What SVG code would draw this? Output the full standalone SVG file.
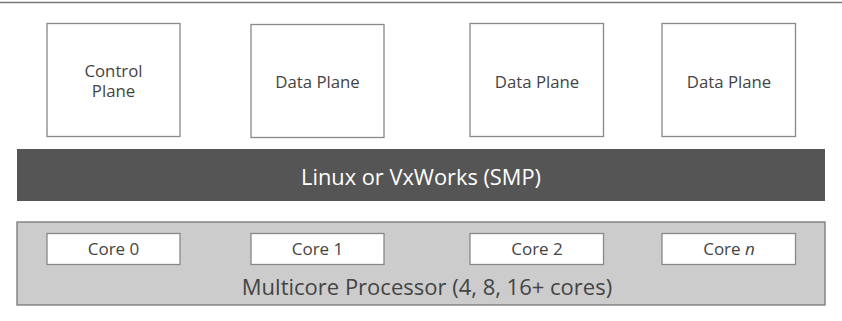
<svg xmlns="http://www.w3.org/2000/svg" width="842" height="321" viewBox="0 0 842 321">
<style>
.t{font-family:"Open Sans","Liberation Sans",sans-serif;fill:#444;text-anchor:middle}
.box{fill:#fff;stroke:#888;stroke-width:1.3}
.pl{font-size:16.8px}
.core{font-size:17px}
</style>
<rect width="842" height="321" fill="#fff"/>
<line x1="0" y1="2.5" x2="842" y2="2.5" stroke="#777" stroke-width="1.3"/>
<g id="control-plane"><rect class="box" x="47" y="23.5" width="133" height="113"/><text class="t pl" x="113.5" y="77">Control<tspan x="113.5" dy="19.8">Plane</tspan></text></g>
<g id="data-plane-1"><rect class="box" x="251" y="24.5" width="133" height="113"/><text class="t pl" x="317.5" y="88">Data Plane</text></g>
<g id="data-plane-2"><rect class="box" x="470" y="23.5" width="133.5" height="113"/><text class="t pl" x="537" y="88">Data Plane</text></g>
<g id="data-plane-3"><rect class="box" x="662" y="23.5" width="133.5" height="113"/><text class="t pl" x="729" y="88">Data Plane</text></g>
<g id="os"><rect x="17" y="149" width="808" height="52" fill="#555"/><text class="t" x="421" y="185" font-size="21.8" style="fill:#fff">Linux or VxWorks (SMP)</text></g>
<g id="processor"><rect x="17" y="222" width="808" height="83" fill="#ccc" stroke="#777" stroke-width="1.3"/><text class="t" x="427" y="295" font-size="22">Multicore Processor (4, 8, 16+ cores)</text></g>
<g id="core-0"><rect class="box" x="47" y="233.5" width="133" height="31"/><text class="t core" x="113.5" y="255">Core 0</text></g>
<g id="core-1"><rect class="box" x="251" y="233.5" width="133" height="31"/><text class="t core" x="317.5" y="255">Core 1</text></g>
<g id="core-2"><rect class="box" x="470" y="233.5" width="133.5" height="31"/><text class="t core" x="537" y="255">Core 2</text></g>
<g id="core-n"><rect class="box" x="662" y="233.5" width="133.5" height="31"/><text class="t core" x="729" y="255">Core <tspan font-style="italic">n</tspan></text></g>
<g id="connectors"/>
</svg>
